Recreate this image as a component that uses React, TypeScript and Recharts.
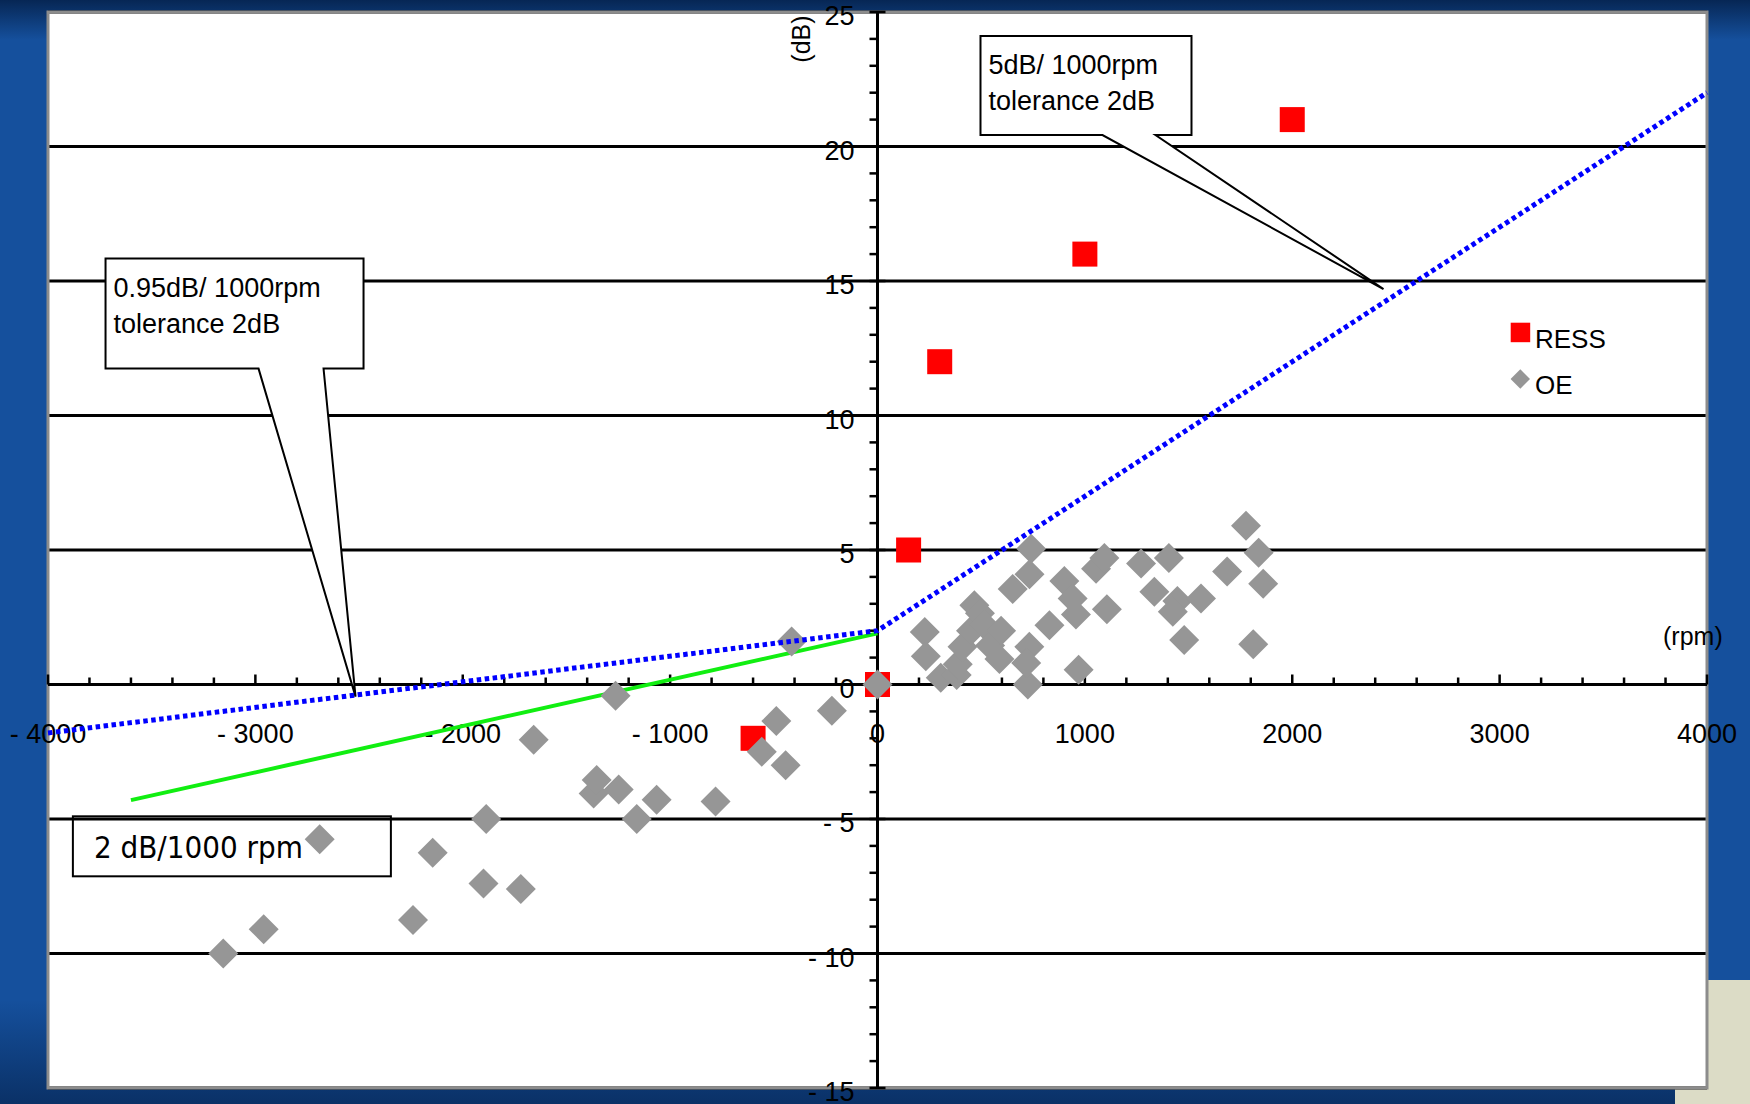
import {
  ComposedChart,
  XAxis,
  YAxis,
  CartesianGrid,
  ReferenceLine,
  ReferenceArea,
  Scatter,
  Line,
  Legend,
} from "recharts";

// rpm difference vs noise difference (dB)
const ressPoints: [number, number][] = [
  [0, 0],
  [150, 5],
  [300, 12],
  [1000, 16],
  [2000, 21],
  [-600, -2],
];

const oePoints: [number, number][] = [
  [-3155, -10.0], [-2960, -9.1], [-2690, -5.75], [-2240, -8.75], [-2145, -6.25],
  [-1900, -7.4], [-1887, -5.0], [-1720, -7.6], [-1658, -2.05], [-1369, -4.05],
  [-1354, -3.55], [-1263, -0.42], [-1248, -3.9], [-1161, -5.0], [-1065, -4.28],
  [-781, -4.35], [-558, -2.5], [-488, -1.36], [-443, -3.0], [-414, 1.6],
  [-220, -0.98], [0, 0], [228, 1.95], [233, 1.05], [305, 0.25], [382, 0.35],
  [387, 0.75], [410, 1.4], [451, 2.0], [467, 2.95], [494, 2.65], [516, 2.2],
  [543, 1.45], [588, 0.95], [596, 2.0], [652, 3.55], [733, 4.1], [741, 5.05],
  [725, 0.0], [732, 1.4], [717, 0.8], [829, 2.2], [901, 3.85], [941, 3.2],
  [957, 2.6], [970, 0.55], [1054, 4.3], [1094, 4.7], [1106, 2.8], [1271, 4.5],
  [1335, 3.45], [1405, 4.7], [1446, 3.1], [1424, 2.7], [1560, 3.2], [1479, 1.65],
  [1686, 4.2], [1777, 5.9], [1838, 4.9], [1860, 3.75], [1812, 1.5],
];

// tolerance lines: 0.95dB/1000rpm below 0, 5dB/1000rpm above
const toleranceLine: [number, number][] = [
  [-4000, -1.8],
  [0, 2],
  [4000, 22],
];
// 2 dB/1000 rpm fit
const fitLine: [number, number][] = [
  [-3600, -4.3],
  [0, 1.9],
];

const xTickLabels = [-4000, -3000, -2000, -1000, 0, 1000, 2000, 3000, 4000];
const yTickLabels = [-15, -10, -5, 0, 5, 10, 15, 20, 25];
const gridLevels = [-10, -5, 5, 10, 15, 20];
const xMinorStep = 200;
const yMinorStep = 1;

const callouts = [
  { x: 2440, y: 14.7, lines: ["5dB/ 1000rpm", "tolerance 2dB"] },
  { x: -2517, y: -0.45, lines: ["0.95dB/ 1000rpm", "tolerance 2dB"] },
];
const noteBox = { x: -3880, y: -4.9, text: "2 dB/1000 rpm" };

// box offsets from the callout tip, in px
const calloutLayout = [
  { left: -403, top: -253, w: 211, h: 99, b1: -281, b2: -228 },
  { left: -250, top: -438, w: 258, h: 110, b1: -97, b2: -32 },
];

const FONT = "'Liberation Sans', Arial, Helvetica, sans-serif";
const toXY = (pts: [number, number][]) => pts.map(([x, y]) => ({ x, y }));
const fmt = (v: number) => (v < 0 ? `- ${Math.abs(v)}` : `${v}`);

const xMinor: { x: number; y: number }[] = [];
for (let v = -4000; v <= 4000; v += xMinorStep) xMinor.push({ x: v, y: 0 });
const yMinor: { x: number; y: number }[] = [];
for (let v = -15; v <= 25; v += yMinorStep) yMinor.push({ x: 0, y: v });

const XTick = (p: any) => {
  const major = p.payload.x % 1000 === 0;
  return <line x1={p.cx} x2={p.cx} y1={p.cy} y2={p.cy - (major ? 10 : 7)} stroke="#000" strokeWidth={2.5} />;
};
const YTick = (p: any) => {
  const major = p.payload.y % 5 === 0;
  return <line x1={p.cx - 8} x2={major ? p.cx + 8 : p.cx} y1={p.cy} y2={p.cy} stroke="#000" strokeWidth={2.5} />;
};
const XLabel = (p: any) => (
  <text x={p.cx} y={p.cy + 58} textAnchor="middle" fontSize={27} fontFamily={FONT} fill="#000">
    {fmt(p.payload.x)}
  </text>
);
const YLabel = (p: any) => (
  <text x={p.cx - 23} y={p.cy + 13} textAnchor="end" fontSize={27} fontFamily={FONT} fill="#000">
    {fmt(p.payload.y)}
  </text>
);

const Square = (p: any) => <rect x={p.cx - 12.5} y={p.cy - 12.5} width={25} height={25} fill="#ff0000" />;
const Diamond = (p: any) => (
  <path d={`M${p.cx},${p.cy - 15} L${p.cx + 15},${p.cy} L${p.cx},${p.cy + 15} L${p.cx - 15},${p.cy} Z`} fill="#969696" />
);

function makeCallout(i: number) {
  return (p: any) => {
    const L = calloutLayout[i];
    const { cx, cy } = p;
    const left = cx + L.left;
    const top = cy + L.top;
    const right = left + L.w;
    const bottom = top + L.h;
    const d = `M${left},${top} H${right} V${bottom} H${cx + L.b2} L${cx},${cy} L${cx + L.b1},${bottom} H${left} Z`;
    return (
      <g>
        <path d={d} fill="#fff" stroke="#000" strokeWidth={2} />
        {p.payload.lines.map((t: string, k: number) => (
          <text key={k} x={left + 8} y={top + 38 + k * 36} fontSize={27} fontFamily={FONT} fill="#000">
            {t}
          </text>
        ))}
      </g>
    );
  };
}

const NoteShape = (p: any) => (
  <g>
    <rect x={p.cx} y={p.cy} width={318} height={60} fill="none" stroke="#000" strokeWidth={2} />
    <text
      x={p.cx + 21}
      y={p.cy + 42}
      fontSize={31}
      fontFamily="'DejaVu Sans Condensed', 'DejaVu Sans', sans-serif"
      style={{ fontStretch: "condensed" }}
      fill="#000"
    >
      {p.payload.text}
    </text>
  </g>
);

const AxisTitleY = (p: any) => (
  <text
    x={p.cx - 77}
    y={p.cy + 27}
    transform={`rotate(-90 ${p.cx - 77} ${p.cy + 27})`}
    textAnchor="middle"
    dominantBaseline="central"
    fontSize={25}
    fontFamily={FONT}
    fill="#000"
  >
    (dB)
  </text>
);
const AxisTitleX = (p: any) => (
  <text x={p.cx - 44} y={p.cy - 40} fontSize={25} fontFamily={FONT} fill="#000">
    (rpm)
  </text>
);

const renderLegend = () => (
  <svg width={140} height={100}>
    <rect x={10.7} y={12.7} width={19.5} height={19.5} fill="#ff0000" />
    <text x={35} y={38} fontSize={26} fontFamily={FONT} fill="#000">
      RESS
    </text>
    <path d="M20.3,59.3 L30,69 L20.3,78.7 L10.6,69 Z" fill="#969696" />
    <text x={35} y={84} fontSize={26} fontFamily={FONT} fill="#000">
      OE
    </text>
  </svg>
);

export default function App() {
  return (
    <div
      style={{
        position: "absolute",
        left: 0,
        top: 0,
        width: 1750,
        height: 1104,
        overflow: "hidden",
        background:
          "linear-gradient(180deg, rgba(3,28,66,0.8) 0px, rgba(3,28,66,0) 40px, rgba(3,28,66,0) 1000px, rgba(3,28,66,0.6) 1104px), #15509d",
      }}
    >
      <div style={{ position: "absolute", left: 1675, top: 980, width: 75, height: 124, background: "#dcdcc6" }} />
      <div style={{ position: "absolute", left: 0, top: 0 }}>
        <ComposedChart width={1750} height={1104} margin={{ top: 12, right: 43, bottom: 16, left: 48 }}>
          <XAxis type="number" dataKey="x" domain={[-4000, 4000]} hide />
          <YAxis type="number" dataKey="y" domain={[-15, 25]} ticks={gridLevels} hide />
          <CartesianGrid vertical={false} fill="#fff" fillOpacity={1} stroke="#000" strokeWidth={3} />
          <ReferenceArea x1={-4000} x2={4000} y1={-15} y2={25} fill="none" fillOpacity={0} stroke="#8c8c8c" strokeWidth={3} />
          <ReferenceLine y={0} stroke="#000" strokeWidth={3} />
          <ReferenceLine x={0} stroke="#000" strokeWidth={3} />

          <Scatter data={xMinor} shape={XTick} legendType="none" isAnimationActive={false} zIndex={350} />
          <Scatter data={yMinor} shape={YTick} legendType="none" isAnimationActive={false} zIndex={350} />
          <Scatter
            data={xTickLabels.map((v) => ({ x: v, y: 0 }))}
            shape={XLabel}
            legendType="none"
            isAnimationActive={false}
            zIndex={350}
          />
          <Scatter
            data={yTickLabels.map((v) => ({ x: 0, y: v }))}
            shape={YLabel}
            legendType="none"
            isAnimationActive={false}
            zIndex={350}
          />
          <Scatter data={[{ x: 0, y: 25 }]} shape={AxisTitleY} legendType="none" isAnimationActive={false} zIndex={350} />
          <Scatter data={[{ x: 4000, y: 0 }]} shape={AxisTitleX} legendType="none" isAnimationActive={false} zIndex={350} />
          <Scatter data={[noteBox]} shape={NoteShape} legendType="none" isAnimationActive={false} zIndex={350} />

          <Line
            data={toXY(fitLine)}
            dataKey="y"
            type="linear"
            stroke="#11ee11"
            strokeWidth={4}
            dot={false}
            legendType="none"
            isAnimationActive={false}
          />

          {callouts.map((c, i) => (
            <Scatter key={i} data={[c]} shape={makeCallout(i)} legendType="none" isAnimationActive={false} />
          ))}

          <Scatter name="RESS" data={toXY(ressPoints)} shape={Square} isAnimationActive={false} />
          <Scatter name="OE" data={toXY(oePoints)} shape={Diamond} isAnimationActive={false} />

          <Line
            data={toXY(toleranceLine)}
            dataKey="y"
            type="linear"
            stroke="#0000ff"
            strokeWidth={5}
            strokeDasharray="4.5 3.5"
            dot={false}
            legendType="none"
            isAnimationActive={false}
            zIndex={700}
          />

          <Legend
            layout="horizontal"
            verticalAlign="middle"
            align="center"
            content={renderLegend}
            wrapperStyle={{ position: "absolute", left: 1500, top: 310, width: 140, height: 100 }}
          />
        </ComposedChart>
      </div>
    </div>
  );
}
